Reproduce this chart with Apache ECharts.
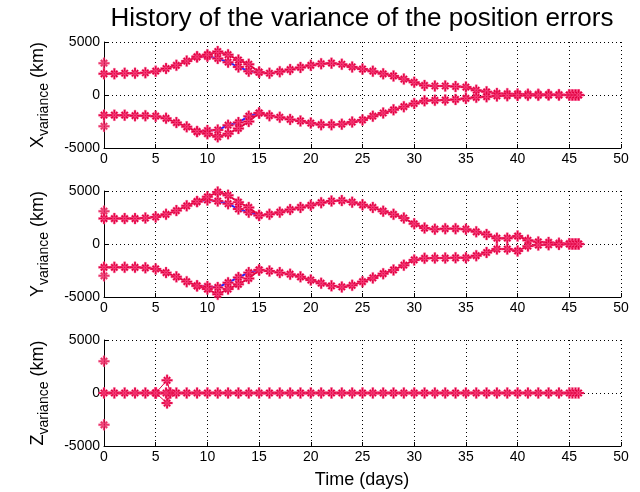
<!DOCTYPE html>
<html>
<head>
<meta charset="utf-8">
<script src="https://cdn.jsdelivr.net/npm/echarts@6/dist/echarts.min.js"></script>
<style>
  html, body { margin: 0; padding: 0; background: #fff; }
  #chart { width: 640px; height: 492px; }
</style>
</head>
<body>
<div id="chart"></div>
<script>
// Sample times (days)
const TIME = [0, 1, 2, 3, 4, 5, 6, 7, 8, 9, 10, 11, 12, 13, 14, 15, 16, 17, 18, 19,
  20, 21, 22, 23, 24, 25, 26, 27, 28, 29, 30, 31, 32, 33, 34, 35, 36, 37, 38, 39,
  40, 41, 42, 43, 44, 45, 45.3, 45.6, 45.9];

// X variance envelope (km)
const X_UPPER = [2000, 2000, 2050, 2050, 2100, 2250, 2500, 2800, 3200, 3600,
  3800, 4100, 3800, 3300, 2900, 2150, 2050, 2200, 2400, 2600,
  2800, 2950, 3000, 2900, 2650, 2450, 2250, 2000, 1800, 1500,
  1200, 900, 850, 850, 800, 750, 450, 300, 150, 120,
  100, 80, 60, 50, 30, 10, 0, 0, 0];
const X_LOWER = [-1900, -1900, -1900, -1950, -1950, -2000, -2200, -2600, -3000, -3450,
  -3650, -3950, -3650, -3150, -2500, -1700, -1950, -2100, -2300, -2450,
  -2650, -2800, -2800, -2750, -2550, -2350, -2000, -1700, -1400, -1100,
  -800, -550, -500, -480, -420, -320, -220, -160, -90, -60,
  -40, -30, -20, -10, -10, 0, 0, 0, 0];

// Y variance envelope (km)
const Y_UPPER = [2400, 2400, 2400, 2400, 2450, 2550, 2800, 3150, 3600, 4000,
  4450, 4900, 4600, 3950, 3450, 2700, 2800, 3000, 3250, 3450,
  3650, 3900, 4050, 4100, 3950, 3700, 3450, 3100, 2800, 2450,
  1900, 1500, 1400, 1450, 1450, 1400, 1150, 900, 550, 550,
  750, 350, 200, 150, 80, 30, 0, 0, 0];
const Y_LOWER = [-2200, -2200, -2200, -2200, -2250, -2350, -2700, -3100, -3550, -3950,
  -4250, -4750, -4250, -3800, -3250, -2450, -2550, -2700, -2850, -3100,
  -3400, -3700, -3950, -4050, -3900, -3550, -3200, -2800, -2450, -2000,
  -1500, -1350, -1330, -1330, -1300, -1300, -1100, -800, -480, -480,
  -650, -200, -100, -70, -40, -10, 0, 0, 0];

// Z variance (km)
const Z_MAIN = [0, 0, 0, 0, 0, 0, 0, 0, 0, 0, 0, 0, 0, 0, 0, 0, 0, 0, 0, 0,
  0, 0, 0, 0, 0, 0, 0, 0, 0, 0, 0, 0, 0, 0, 0, 0, 0, 0, 0, 0,
  0, 0, 0, 0, 0, 0, 0, 0, 0];

// Second estimate branch between days 9 and 15
const TIME_SPLIT = [9, 10, 11, 12, 13, 14, 15];
const X_UPPER_ALT = [3600, 3650, 3450, 3100, 2650, 2250, 2150];
const X_LOWER_ALT = [-3450, -3350, -3300, -2850, -2600, -2000, -1700];
const Y_UPPER_ALT = [4000, 4150, 4050, 3800, 3300, 3000, 2700];
const Y_LOWER_ALT = [-3950, -4000, -4100, -3650, -3150, -2700, -2450];

// Initial covariance samples at t = 0
const START_X = [3000, -2950];
const START_Y = [3100, -3000];
const START_Z = [3000, -3000];

// Z excursion around day 6
const Z_SPIKE_T = [5, 6.1, 6.4];
const Z_SPIKE_UP = [0, 1200, 0];
const Z_SPIKE_DN = [0, -950, 0];

// Y axis tick values, x axis range
const Y_TICKS = [-5000, 0, 5000];
const X_RANGE = [0, 50];

const RED = '#e0003f';
const HALO = 'rgba(255,90,150,0.55)';
const BLUE = '#1a1aff';
const STAR = 'path://M-0.9,-5L0.9,-5L0.9,5L-0.9,5Z M-5,-0.9L5,-0.9L5,0.9L-5,0.9Z M-2.2,-3.5L3.5,2.2L2.2,3.5L-3.5,-2.2Z M-3.5,2.2L2.2,-3.5L3.5,-2.2L-2.2,3.5Z';
const FONT = 'Liberation Sans, Arial, sans-serif';

const zip = (t, v) => t.map((x, i) => [x, v[i]]);

function lineSeries(idx, t, v, opt) {
  opt = opt || {};
  return {
    type: 'line', xAxisIndex: idx, yAxisIndex: idx,
    data: zip(t, v),
    symbol: STAR, symbolSize: opt.size || 11, showAllSymbol: true,
    lineStyle: { color: opt.line || RED, width: opt.width || 2, opacity: 1 },
    itemStyle: { color: RED, borderColor: HALO, borderWidth: 0.7 },
    z: opt.z || 3, silent: true
  };
}
function startPoints(idx, vals) {
  return {
    type: 'scatter', xAxisIndex: idx, yAxisIndex: idx,
    data: vals.map(v => [0, v]),
    symbol: STAR, symbolSize: 11,
    itemStyle: { color: RED, borderColor: HALO, borderWidth: 0.7 }, z: 4, silent: true
  };
}

const tops = [42, 191, 340];
const grids = tops.map(t => ({ left: 104, width: 517, top: t, height: 106 }));
const xAxes = tops.map((t, i) => ({
  type: 'value', gridIndex: i, min: X_RANGE[0], max: X_RANGE[1], interval: 5,
  axisLine: { show: true, onZero: false, lineStyle: { color: '#000', width: 1 } },
  axisTick: { show: true, inside: true, length: 4, lineStyle: { color: '#000' } },
  axisLabel: { color: '#000', fontSize: 14, fontFamily: FONT, margin: 4,
    formatter: v => String(v) },
  splitLine: { show: true, lineStyle: { color: '#000', width: 1, type: [1, 3] } }
}));
const yAxes = tops.map((t, i) => ({
  type: 'value', gridIndex: i, min: Y_TICKS[0], max: Y_TICKS[2], interval: 5000,
  axisLine: { show: true, onZero: false, lineStyle: { color: '#000', width: 1 } },
  axisTick: { show: true, inside: true, length: 4, lineStyle: { color: '#000' } },
  axisLabel: { color: '#000', fontSize: 14, fontFamily: FONT, margin: 4,
    formatter: v => String(v) },
  splitLine: { show: true, lineStyle: { color: '#000', width: 1, type: [1, 3] } }
}));

const series = [
  // X
  lineSeries(0, TIME_SPLIT, X_UPPER_ALT, { line: BLUE, z: 2 }),
  lineSeries(0, TIME_SPLIT, X_LOWER_ALT, { line: BLUE, z: 2 }),
  lineSeries(0, TIME, X_UPPER),
  lineSeries(0, TIME, X_LOWER),
  startPoints(0, START_X),
  // Y
  lineSeries(1, TIME_SPLIT, Y_UPPER_ALT, { line: BLUE, z: 2 }),
  lineSeries(1, TIME_SPLIT, Y_LOWER_ALT, { line: BLUE, z: 2 }),
  lineSeries(1, TIME, Y_UPPER),
  lineSeries(1, TIME, Y_LOWER),
  startPoints(1, START_Y),
  // Z
  lineSeries(2, Z_SPIKE_T, Z_SPIKE_UP, { width: 1, z: 2 }),
  lineSeries(2, Z_SPIKE_T, Z_SPIKE_DN, { width: 1, z: 2 }),
  lineSeries(2, TIME, Z_MAIN, { width: 3 }),
  startPoints(2, START_Z)
];

function yLabel(letter, cy) {
  return {
    type: 'text', x: 38, y: cy, rotation: Math.PI / 2, silent: true,
    style: {
      text: '{m|' + letter + '}{s|variance}{m| (km)}',
      align: 'center', verticalAlign: 'middle',
      rich: {
        m: { fontSize: 18, fontFamily: FONT, fill: '#000', lineHeight: 26 },
        s: { fontSize: 14, fontFamily: FONT, fill: '#000', lineHeight: 14, verticalAlign: 'bottom' }
      }
    }
  };
}

const chart = echarts.init(document.getElementById('chart'), null, { renderer: 'canvas' });
chart.setOption({
  animation: false,
  backgroundColor: '#fff',
  grid: grids, xAxis: xAxes, yAxis: yAxes, series: series,
  graphic: [
    { type: 'text', x: 362, y: 19, silent: true,
      style: { text: 'History of the variance of the position errors', fontSize: 26,
        fontFamily: FONT, fill: '#000', align: 'center', verticalAlign: 'middle' } },
    yLabel('X', 95), yLabel('Y', 244), yLabel('Z', 393),
    { type: 'text', x: 362, y: 480, silent: true,
      style: { text: 'Time (days)', fontSize: 18, fontFamily: FONT, fill: '#000',
        align: 'center', verticalAlign: 'middle' } }
  ]
});
</script>
</body>
</html>
